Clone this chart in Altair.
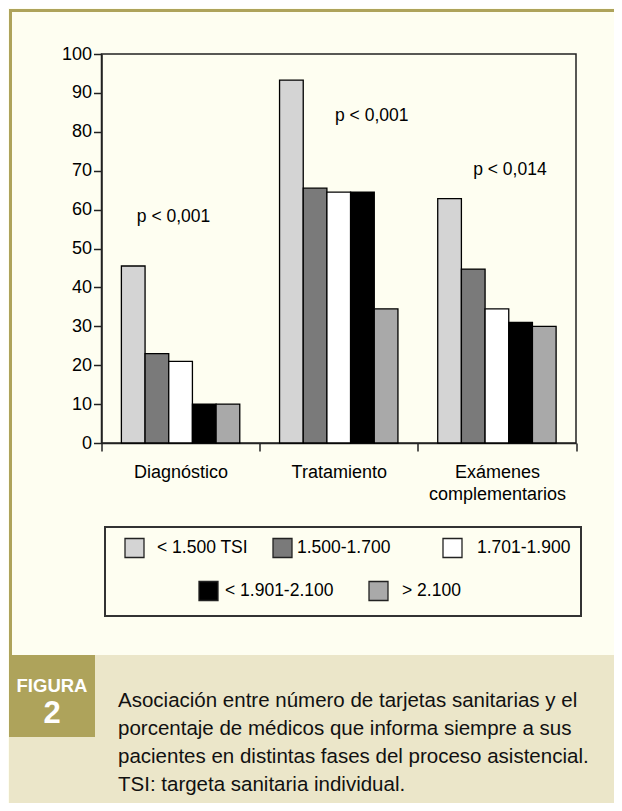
import altair as alt
import pandas as pd

# ---------------- data ----------------
CATEGORIES = ["Diagnóstico", "Tratamiento", "Exámenes complementarios"]
SERIES = ["< 1.500 TSI", "1.500-1.700", "1.701-1.900", "< 1.901-2.100", "> 2.100"]
DIAGNOSTICO = [45.5, 23.0, 21.0, 10.0, 10.0]
TRATAMIENTO = [93.3, 65.5, 64.5, 64.5, 34.5]
EXAMENES = [62.8, 44.7, 34.5, 31.0, 30.0]
P_LABELS = ["p < 0,001", "p < 0,001", "p < 0,014"]
P_LEVELS = [58, 84, 70.2]
Y_TICKS = list(range(0, 101, 10))
CAPTION_LINES = [
    "Asociación entre número de tarjetas sanitarias y el",
    "porcentaje de médicos que informa siempre a sus",
    "pacientes en distintas fases del proceso asistencial.",
    "TSI: targeta sanitaria individual.",
]
FIG_LABEL = "FIGURA"
FIG_NUM = "2"

# ---------------- styles / layout ----------------
COLORS = ["#D4D4D4", "#7A7A7A", "#FFFFFF", "#000000", "#A9A9A9"]
CREAM = "#FEFEF1"
OLIVE = "#AEA35B"
BAND = "#EBE6C9"
DARK = "#222222"
FONT = "Liberation Sans"

W, H = 474.5, 389
OX, OY = 101.5, 54          # page position of the plot area
PAD = {"left": OX - 8, "top": OY - 8, "right": 606 - (OX - 8) - W, "bottom": 795 - (OY - 8) - H}
P_DX = [-7, 33, 13]
LEG_SQ_X = [125, 273, 443, 199, 369]
LEG_TX_X = [157, 297, 477, 225, 402]
LEG_ROW_Y = [548, 548, 548, 591, 591]
SQ = 19


def px(x):
    return x - OX


def py(y):
    return y - OY


rows = []
for cat, vals in zip(CATEGORIES, [DIAGNOSTICO, TRATAMIENTO, EXAMENES]):
    for s, v in zip(SERIES, vals):
        rows.append({"category": cat, "series": s, "value": v})
df = pd.DataFrame(rows)

ONE = alt.Data(values=[{"k": 0}])


def rect(x1, x2, y1, y2, **kw):
    return alt.Chart(ONE).mark_rect(**kw).encode(
        x=alt.value(px(x1)), x2=alt.value(px(x2)),
        y=alt.value(py(y1)), y2=alt.value(py(y2)),
    )


def text(x, y, t, **kw):
    return alt.Chart(ONE).mark_text(**kw).encode(
        x=alt.value(px(x)), y=alt.value(py(y)), text=alt.value(t)
    )


X_AXIS = alt.Axis(title=None, labelAngle=0, tickBand="extent",
                  labelExpr="datum.label == 'Exámenes complementarios' ? ['Exámenes', 'complementarios'] : datum.label",
                  labelPadding=12, labelLineHeight=22)
Y_AXIS = alt.Axis(title=None, values=Y_TICKS, labelPadding=2, labelOverlap=False)
X_SCALE = alt.Scale(domain=CATEGORIES, paddingInner=0, paddingOuter=0)
Y_SCALE = alt.Scale(domain=[0, 100], nice=False)

# ---------------- decorations ----------------
layers = [
    rect(9, 640, 9, 12, color=OLIVE),
    rect(9, 12, 9, 655, color=OLIVE),
    rect(9, 640, 655, 820, color=BAND),
    rect(9, 95, 655, 737, color=OLIVE),
    text(52, 692, FIG_LABEL, font=FONT, fontSize=18.5, fontWeight="bold",
         color="white", align="center", baseline="alphabetic"),
    text(52, 723, FIG_NUM, font=FONT, fontSize=31, fontWeight="bold",
         color="white", align="center", baseline="alphabetic"),
    text(118, 707, CAPTION_LINES, font=FONT, fontSize=20.5, lineHeight=28,
         color="#111111", align="left", baseline="alphabetic"),
    rect(105, 581, 527, 616, fill=CREAM, fillOpacity=0, stroke="#333333", strokeWidth=2),
]

for i, s in enumerate(SERIES):
    layers.append(rect(LEG_SQ_X[i], LEG_SQ_X[i] + SQ, LEG_ROW_Y[i] - SQ / 2, LEG_ROW_Y[i] + SQ / 2,
                       fill=COLORS[i], stroke=DARK, strokeWidth=1.3))
    layers.append(text(LEG_TX_X[i], LEG_ROW_Y[i], s, font=FONT, fontSize=17.5,
                       color="black", align="left", baseline="middle"))

# ---------------- bars ----------------
bars = alt.Chart(df).mark_bar(stroke="black", strokeWidth=1.3).encode(
    x=alt.X("category:N", sort=CATEGORIES, scale=X_SCALE, axis=X_AXIS),
    xOffset=alt.XOffset("series:N", sort=SERIES,
                        scale=alt.Scale(paddingInner=0, paddingOuter=0.84)),
    y=alt.Y("value:Q", scale=Y_SCALE, axis=Y_AXIS),
    color=alt.Color("series:N", sort=SERIES,
                    scale=alt.Scale(domain=SERIES, range=COLORS), legend=None),
)
layers.append(bars)

for cat, lab, lev, dx in zip(CATEGORIES, P_LABELS, P_LEVELS, P_DX):
    pdf = pd.DataFrame({"category": [cat], "value": [lev], "label": [lab]})
    layers.append(
        alt.Chart(pdf).mark_text(font=FONT, fontSize=17.5, color="black", dx=dx,
                                 align="center", baseline="middle").encode(
            x=alt.X("category:N", sort=CATEGORIES, scale=X_SCALE, axis=X_AXIS),
            y=alt.Y("value:Q", scale=Y_SCALE, axis=Y_AXIS),
            text="label:N",
        )
    )

chart = alt.layer(*layers).properties(
    width=W, height=H,
    autosize=alt.AutoSizeParams(type="none"),
    padding=PAD,
    background=CREAM,
).configure_view(
    stroke=DARK, strokeWidth=1.5, fill=CREAM
).configure_axis(
    grid=False, domainColor=DARK, domainWidth=1.5, tickColor=DARK, tickWidth=1.5,
    tickSize=8, labelFont=FONT, labelFontSize=18, labelColor="black", zindex=1,
)

chart.save("out.html", embed_options={"renderer": "svg", "actions": False})
